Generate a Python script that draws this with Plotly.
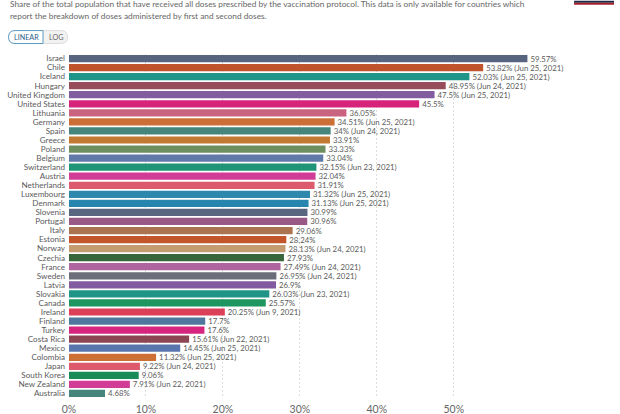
"""Share of the population fully vaccinated, by country."""

import plotly.graph_objects as go

COUNTRIES = ["Israel", "Chile", "Iceland", "Hungary", "United Kingdom", "United States", "Lithuania", "Germany", "Spain", "Greece", "Poland", "Belgium", "Switzerland", "Austria", "Netherlands", "Luxembourg", "Denmark", "Slovenia", "Portugal", "Italy", "Estonia", "Norway", "Czechia", "France", "Sweden", "Latvia", "Slovakia", "Canada", "Ireland", "Finland", "Turkey", "Costa Rica", "Mexico", "Colombia", "Japan", "South Korea", "New Zealand", "Australia"]
SHARES = [59.57, 53.82, 52.03, 48.95, 47.5, 45.5, 36.05, 34.51, 34, 33.91, 33.33, 33.04, 32.15, 32.04, 31.91, 31.32, 31.13, 30.99, 30.96, 29.06, 28.24, 28.13, 27.93, 27.49, 26.95, 26.9, 26.03, 25.57, 20.25, 17.7, 17.6, 15.61, 14.45, 11.32, 9.22, 9.06, 7.91, 4.68]
DATES = ["", "Jun 25, 2021", "Jun 25, 2021", "Jun 24, 2021", "Jun 25, 2021", "", "", "Jun 25, 2021", "Jun 24, 2021", "", "", "", "Jun 23, 2021", "", "", "Jun 25, 2021", "Jun 25, 2021", "", "", "", "", "Jun 24, 2021", "", "Jun 24, 2021", "Jun 24, 2021", "", "Jun 23, 2021", "", "Jun 9, 2021", "", "", "Jun 22, 2021", "Jun 25, 2021", "Jun 25, 2021", "Jun 24, 2021", "", "Jun 22, 2021", ""]
COLOURS = ["#57647f", "#bf532c", "#1f9488", "#964c5a", "#815c9f", "#d6247a", "#c9637f", "#cc6f36", "#46857b", "#c27a33", "#6d8e5f", "#6079a8", "#1f9476", "#d13c96", "#dc5a6c", "#2e87ad", "#2886ae", "#58677f", "#985a85", "#ab7350", "#c3552a", "#c49c70", "#38663a", "#b0649f", "#6c6f7a", "#825a9f", "#219488", "#1f9560", "#dc3f58", "#4f769c", "#d6257f", "#8c4553", "#5875ad", "#cc7036", "#dc5a6c", "#1b8c58", "#d13c96", "#46857b"]
TICKS = [0, 10, 20, 30, 40, 50]
SUBTITLE = ["Share of the total population that have received all doses prescribed by the vaccination protocol. This data is only available for countries which", "report the breakdown of doses administered by first and second doses."]

TEXT = "#5b5b5b"
FONT = "Lato, sans-serif"
WIDTH, HEIGHT = 620, 414
LEFT, TOP, BOTTOM = 68.5, 53.5, 15.5
PLOT_W, PLOT_H = WIDTH - LEFT, HEIGHT - TOP - BOTTOM


def _label(share, date):
    return f"{share:g}% ({date})" if date else f"{share:g}%"


def _px(x, y):
    # picture pixels to paper coordinates, for the page furniture above the plot
    return (x - LEFT) / PLOT_W, 1 + (TOP - y) / PLOT_H


def _pill(x0, x1, y0, y1, round_left, round_right):
    r = (y1 - y0) / 2
    a, b = _px(x0, y0), _px(x1, y1)
    mid = _px(x0 + r, y0)[0], _px(x1 - r, y0)[0]
    path = f"M {mid[0] if round_left else a[0]} {a[1]} L {mid[1] if round_right else b[0]} {a[1]} "
    path += f"Q {b[0]} {a[1]} {b[0]} {(a[1] + b[1]) / 2} Q {b[0]} {b[1]} {mid[1]} {b[1]} " if round_right else f"L {b[0]} {b[1]} "
    path += f"L {mid[0] if round_left else a[0]} {b[1]} "
    path += f"Q {a[0]} {b[1]} {a[0]} {(a[1] + b[1]) / 2} Q {a[0]} {a[1]} {mid[0]} {a[1]} Z" if round_left else "Z"
    return path


def _note(text, x, y, size, colour, anchor="left"):
    px, py = _px(x, y)
    fig.add_annotation(text=text, xref="paper", yref="paper", x=px, y=py, xanchor=anchor, yanchor="middle", showarrow=False, borderpad=0, font={"family": FONT, "size": size, "color": colour})


def _box(x0, x1, y0, y1, colour):
    a, b = _px(x0, y0), _px(x1, y1)
    fig.add_shape(type="rect", xref="paper", yref="paper", x0=a[0], x1=b[0], y0=a[1], y1=b[1], fillcolor=colour, line={"width": 0})


fig = go.Figure(go.Bar(
    x=SHARES,
    y=COUNTRIES,
    orientation="h",
    marker={"color": COLOURS, "line": {"width": 0}},
    width=0.8,
    text=[_label(share, date) for share, date in zip(SHARES, DATES)],
    textposition="outside",
    textangle=0,
    cliponaxis=False,
    constraintext="none",
    textfont={"family": FONT, "size": 7.8, "color": TEXT},
))
fig.update_layout(
    width=WIDTH, height=HEIGHT, paper_bgcolor="white", plot_bgcolor="white", showlegend=False,
    margin={"l": LEFT, "r": 0, "t": TOP, "b": BOTTOM, "pad": 0},
    font={"family": FONT, "color": TEXT},
)
fig.update_xaxes(range=[0, 71.6], tickvals=TICKS, ticktext=[f"{tick}%" for tick in TICKS], showgrid=True, griddash="2px,2px", gridcolor="#dddddd", gridwidth=1, zeroline=False, showline=False, tickfont={"family": FONT, "size": 10.5, "color": "#666666"}, ticks="", ticklabelstandoff=3)
fig.update_yaxes(autorange="reversed", tickfont={"family": FONT, "size": 8.1, "color": TEXT}, showgrid=False, zeroline=False, ticks="", ticklabelstandoff=3, tickmode="linear", dtick=1)

_note(SUBTITLE[0], 8, 3, 8.3, "#666666")
_note(SUBTITLE[1], 8, 15.5, 8.3, "#666666")

# LINEAR / LOG toggle
fig.add_shape(type="path", xref="paper", yref="paper", path=_pill(40, 67, 30, 43, False, True), fillcolor="#f2f2f2", line={"color": "#dddddd", "width": 1})
fig.add_shape(type="path", xref="paper", yref="paper", path=_pill(8, 42.5, 30, 43, True, False), fillcolor="white", line={"color": "#5b9bc0", "width": 1})
_note("LINEAR", 25.5, 36.5, 7.2, "#2d5f8a", "center")
_note("LOG", 55, 36.5, 7.2, "#666666", "center")

# logo clipped by the top edge
_box(574, 614, 0, 2, "#1d2a4a")
_box(574, 614, 2, 4, "#a3222c")

# drop the page's default body margin so the figure sits at the corner of the window
fig.write_html("out.html", config={"displayModeBar": False}, post_script="document.body.style.margin = '0';")
